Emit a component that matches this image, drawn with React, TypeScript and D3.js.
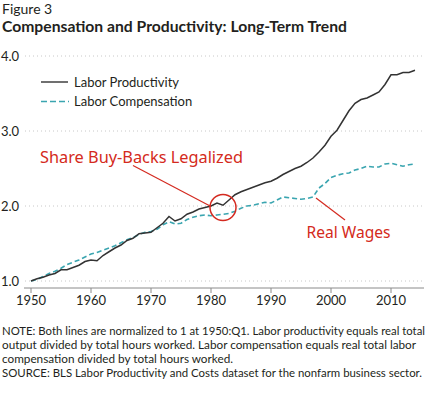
import React from 'react';
import * as d3 from 'd3';

const years = d3.range(1950, 2015);

const productivity = [
  1.00, 1.03, 1.05, 1.08, 1.10, 1.15, 1.15, 1.18, 1.21, 1.26,
  1.28, 1.27, 1.34, 1.39, 1.44, 1.48, 1.54, 1.57, 1.63, 1.64,
  1.65, 1.71, 1.77, 1.86, 1.80, 1.83, 1.89, 1.92, 1.96, 1.98,
  2.00, 2.04, 2.01, 2.08, 2.15, 2.19, 2.22, 2.25, 2.28, 2.31,
  2.33, 2.37, 2.42, 2.46, 2.50, 2.53, 2.58, 2.64, 2.72, 2.81,
  2.93, 3.01, 3.14, 3.27, 3.37, 3.42, 3.44, 3.48, 3.52, 3.62,
  3.75, 3.75, 3.78, 3.78, 3.81,
];

const compensation = [
  1.00, 1.02, 1.06, 1.10, 1.13, 1.17, 1.22, 1.25, 1.28, 1.32,
  1.36, 1.38, 1.41, 1.44, 1.47, 1.51, 1.55, 1.58, 1.62, 1.65,
  1.66, 1.69, 1.75, 1.79, 1.76, 1.77, 1.82, 1.85, 1.87, 1.88,
  1.87, 1.88, 1.89, 1.90, 1.93, 1.97, 2.00, 2.01, 2.03, 2.05,
  2.04, 2.08, 2.12, 2.11, 2.10, 2.09, 2.10, 2.12, 2.24, 2.30,
  2.38, 2.41, 2.43, 2.44, 2.48, 2.50, 2.53, 2.52, 2.52, 2.56,
  2.57, 2.55, 2.53, 2.55, 2.56,
];

const yTicks = [1, 2, 3, 4];
const xTicks = [1950, 1960, 1970, 1980, 1990, 2000, 2010];

const noteLines = [
  'NOTE: Both lines are normalized to 1 at 1950:Q1. Labor productivity equals real total',
  'output divided by total hours worked. Labor compensation equals real total labor',
  'compensation divided by total hours worked.',
  'SOURCE: BLS Labor Productivity and Costs dataset for the nonfarm business sector.',
];
const noteWidths = [423, 414, 231, 420];

const FONT = 'Lato, "Open Sans", sans-serif';
const TEXT = '#231f20';
const RED = '#d42a20';
const TEAL = '#3aa5b0';

export default function App() {
  const x = d3.scaleLinear().domain([1950, 2010]).range([31, 391]);
  const y = d3.scaleLinear().domain([1, 4]).range([281, 56]);

  const line = d3.line<number>()
    .x((_, i) => x(years[i]))
    .y((d) => y(d));

  return (
    <svg width={430} height={398} style={{ position: 'absolute', left: 0, top: 0, background: '#fff' }}
      fontFamily={FONT}>
      <text x={2} y={14} fontSize={14} fill={TEXT}>Figure 3</text>
      <text x={2} y={32} fontSize={15} fontWeight="bold" fill={TEXT}
        textLength={345} lengthAdjust="spacingAndGlyphs">
        Compensation and Productivity: Long-Term Trend
      </text>

      {/* grid */}
      {yTicks.map((t) => (
        <g key={t}>
          <line x1={25} x2={424} y1={y(t)} y2={y(t)} stroke="#c8c8c8" strokeDasharray="1,3" />
          <text x={1} y={y(t) + 5} fontSize={13} fill={TEXT}>{t.toFixed(1)}</text>
        </g>
      ))}

      {/* x axis */}
      <line x1={24} x2={424} y1={288} y2={288} stroke="#8a8a8a" />
      {xTicks.map((t) => (
        <g key={t}>
          <line x1={x(t)} x2={x(t)} y1={288} y2={293} stroke="#8a8a8a" />
          <text x={x(t)} y={305} fontSize={13} textAnchor="middle" fill={TEXT}>{t}</text>
        </g>
      ))}

      {/* series */}
      <path d={line(compensation) || ''} fill="none" stroke={TEAL} strokeWidth={1.6}
        strokeDasharray="5,3" />
      <path d={line(productivity) || ''} fill="none" stroke="#333" strokeWidth={1.5} />

      {/* legend */}
      <line x1={41} x2={68} y1={82} y2={82} stroke="#333" strokeWidth={1.4} />
      <text x={74} y={87} fontSize={13} fill={TEXT}>Labor Productivity</text>
      <line x1={41} x2={69} y1={101.5} y2={101.5} stroke={TEAL} strokeWidth={1.6} strokeDasharray="6,3" />
      <text x={74} y={106} fontSize={13} fill={TEXT}>Labor Compensation</text>

      {/* annotations */}
      <circle cx={223} cy={207.5} r={13} fill="none" stroke={RED} strokeWidth={1.5} />
      <line x1={133} y1={165.5} x2={211} y2={206.5} stroke={RED} strokeWidth={1.2} />
      <text x={40} y={163} fontSize={16.5} fill={RED} fontFamily='"Noto Sans", sans-serif'
        textLength={203} lengthAdjust="spacingAndGlyphs">Share Buy-Backs Legalized</text>
      <line x1={316} y1={198} x2={345} y2={220} stroke={RED} strokeWidth={1.2} />
      <text x={306.5} y={237.5} fontSize={16.5} fill={RED} fontFamily='"Noto Sans", sans-serif'
        textLength={84} lengthAdjust="spacingAndGlyphs">Real Wages</text>

      {/* note */}
      {noteLines.map((l, i) => (
        <text key={i} x={2} y={334.5 + i * 14.3} fontSize={11.5} fill={TEXT}
          textLength={noteWidths[i]} lengthAdjust="spacingAndGlyphs">{l}</text>
      ))}
    </svg>
  );
}
